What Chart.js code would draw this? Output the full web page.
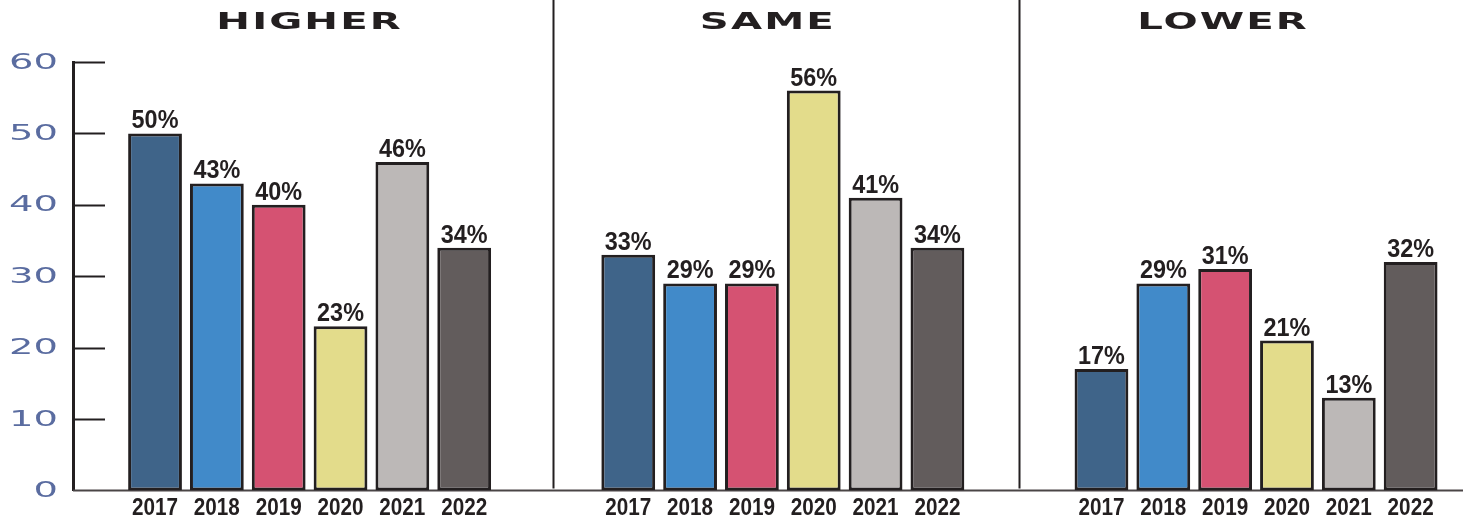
<!DOCTYPE html>
<html>
<head>
<meta charset="utf-8">
<title>Higher / Same / Lower</title>
<script src="https://cdn.jsdelivr.net/npm/chart.js@4"></script>
<style>
  html, body { margin: 0; padding: 0; background: #fff; overflow: hidden; }
  #wrap { width: 1469px; height: 521px; }
</style>
</head>
<body>
<div id="wrap"><canvas id="trendChart"></canvas></div>
<script>
// Values
const groups = ['HIGHER', 'SAME', 'LOWER'];
const years = ['2017', '2018', '2019', '2020', '2021', '2022'];
const higher = [50, 43, 40, 23, 46, 34];
const same = [33, 29, 29, 56, 41, 34];
const lower = [17, 29, 31, 21, 13, 32];
const yTicks = [0, 10, 20, 30, 40, 50, 60];

// One colour per year
const yearColors = ['#3f6489', '#418ac9', '#d55272', '#e3dc8b', '#bcb8b7', '#625c5c'];
const ink = '#231f20';

// Helper: text drawn with a horizontal stretch (condensed / extended faces)
function drawText(ctx, text, x, y, font, color, align, stretch, spacing) {
    ctx.save();
    ctx.translate(x, y);
    ctx.scale(stretch, 1);
    ctx.font = font;
    ctx.fillStyle = color;
    ctx.textAlign = align;
    ctx.textBaseline = 'alphabetic';
    ctx.letterSpacing = (spacing || 0) + 'px';
    ctx.fillText(text, 0, 0);
    ctx.restore();
}

// Decorations: dividers, baseline, inward ticks, labels
const decorations = {
    id: 'decorations',
    beforeDatasetsDraw(chart, args, opts) {
        const { ctx, chartArea, scales } = chart;
        const x = scales.x;
        const y = scales.y;
        ctx.save();
        ctx.strokeStyle = ink;

        // Vertical dividers between the groups
        ctx.lineWidth = 2;
        for (let g = 0; g < groups.length - 1; g++) {
            const px = Math.round(x.getPixelForValue(g + 0.5 + opts.dividerShift[g])) + 0.5;
            ctx.beginPath();
            ctx.moveTo(px, 0);
            ctx.lineTo(px, chartArea.bottom - 2);
            ctx.stroke();
        }

        // Baseline
        ctx.strokeStyle = '#4a4546';
        ctx.beginPath();
        ctx.moveTo(chartArea.left, y.getPixelForValue(0));
        ctx.lineTo(chartArea.right - 6, y.getPixelForValue(0));
        ctx.stroke();

        // Tick marks pointing into the plot
        ctx.strokeStyle = ink;
        yTicks.forEach(v => {
            if (v === 0) return;
            const py = Math.round(y.getPixelForValue(v)) + 0.5;
            ctx.beginPath();
            ctx.moveTo(chartArea.left, py);
            ctx.lineTo(chartArea.left + 32, py);
            ctx.stroke();
        });
        ctx.restore();
    },
    afterDatasetsDraw(chart, args, opts) {
        const { ctx, chartArea, scales } = chart;
        const x = scales.x;
        const y = scales.y;

        // Y tick labels
        yTicks.forEach(v => {
            drawText(ctx, String(v), chartArea.left - 15, y.getPixelForValue(v) + 6.5,
                '22px "DejaVu Sans"', '#5a6ca0', 'right', 1.75, 0);
        });

        // Group titles on top (heavy extended face)
        groups.forEach((name, g) => {
            drawText(ctx, name, x.getPixelForValue(g) + opts.titleShift[g], 29,
                'bold 23px "DejaVu Sans"', ink, 'center', 1.75, 1.2);
        });

        // Percentages above bars, years below
        chart.data.datasets.forEach((ds, i) => {
            chart.getDatasetMeta(i).data.forEach((bar, g) => {
                drawText(ctx, ds.data[g].y + '%', bar.x, bar.y - 5,
                    'bold 26px "Liberation Sans"', ink, 'center', 0.9, 0);
                drawText(ctx, ds.label, bar.x, chartArea.bottom + 24.5,
                    'bold 23px "Liberation Sans"', ink, 'center', 0.9, 0);
            });
        });
    }
};

const byGroup = [higher, same, lower];
const datasets = years.map((year, i) => ({
    label: year,
    data: byGroup.map((values, g) => ({ x: g, y: values[i] })),
    backgroundColor: yearColors[i],
    borderColor: ink,
    borderWidth: 3,
    borderSkipped: false,
    categoryPercentage: 0.784,
    barPercentage: 0.87
}));

const ctx = document.getElementById('trendChart').getContext('2d');
new Chart(ctx, {
    type: 'bar',
    data: { datasets: datasets },
    plugins: [decorations],
    options: {
        responsive: true,
        maintainAspectRatio: false,
        animation: false,
        layout: { padding: { top: 62, bottom: 30.5, left: 0, right: 0 } },
        plugins: {
            legend: { display: false },
            tooltip: { enabled: false },
            decorations: {
                titleShift: [0, -15, -33],
                dividerShift: [0.014, 0]
            }
        },
        scales: {
            x: {
                type: 'linear',
                min: -0.5,
                max: 2.45,
                offset: false,
                display: false,
                // one tick per group so the bar width follows the group spacing
                afterBuildTicks(scale) {
                    scale.ticks = groups.map((name, g) => ({ value: g }));
                }
            },
            y: {
                min: 0,
                max: 60,
                ticks: { display: false, stepSize: 10 },
                grid: { display: false, drawTicks: false },
                border: { display: true, color: ink, width: 3 },
                afterFit(scale) { scale.width = 73; }
            }
        }
    }
});
</script>
</body>
</html>
